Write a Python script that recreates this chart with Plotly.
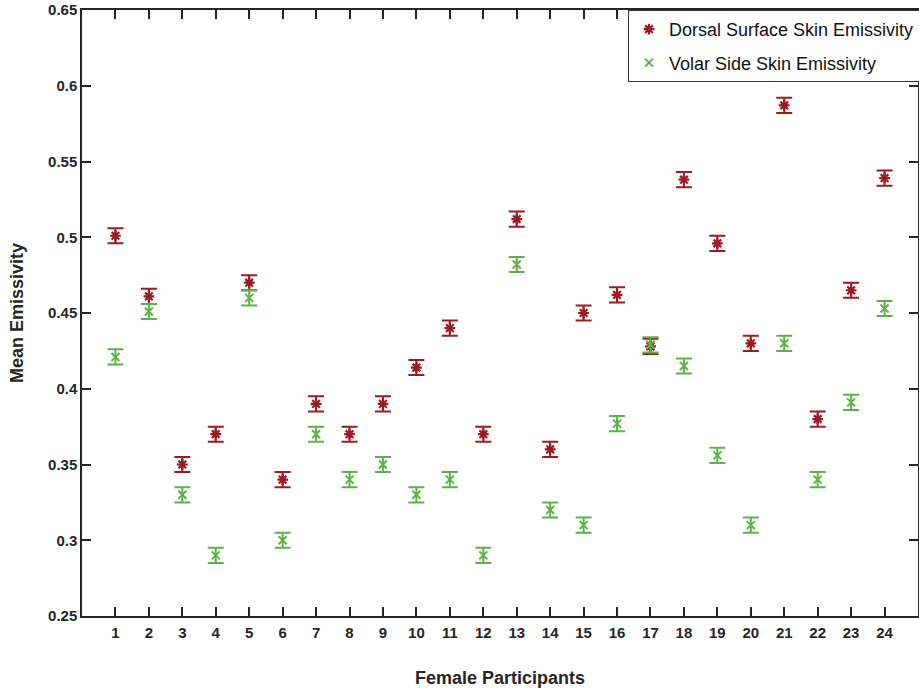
import plotly.graph_objects as go

participants = list(range(1, 25))
dorsal = [0.501, 0.461, 0.350, 0.370, 0.470, 0.340, 0.390, 0.370, 0.390, 0.414,
          0.440, 0.370, 0.512, 0.360, 0.450, 0.462, 0.428, 0.538, 0.496, 0.430,
          0.587, 0.380, 0.465, 0.539]
volar = [0.421, 0.451, 0.330, 0.290, 0.460, 0.300, 0.370, 0.340, 0.350, 0.330,
         0.340, 0.290, 0.482, 0.320, 0.310, 0.377, 0.429, 0.415, 0.356, 0.310,
         0.430, 0.340, 0.391, 0.453]
err = 0.005
y_ticks = [0.25, 0.3, 0.35, 0.4, 0.45, 0.5, 0.55, 0.6, 0.65]
y_tick_text = ["0.25", "0.3", "0.35", "0.4", "0.45", "0.5", "0.55", "0.6", "0.65"]

RED = "#9b1b20"
GREEN = "#5bb347"

fig = go.Figure()
fig.add_trace(go.Scatter(
    x=participants, y=dorsal, mode="markers", name="Dorsal Surface Skin Emissivity",
    legendgroup="a",
    marker=dict(symbol="asterisk-open", size=9, color=RED, line=dict(color=RED, width=2.2)),
    error_y=dict(type="constant", value=err, width=8, thickness=2, color=RED),
))
fig.add_trace(go.Scatter(
    x=participants, y=volar, mode="markers", name="Volar Side Skin Emissivity",
    legendgroup="b",
    marker=dict(symbol="x-thin-open", size=8, color=GREEN, line=dict(color=GREEN, width=2)),
    error_y=dict(type="constant", value=err, width=8, thickness=2, color=GREEN),
))

tickfont = dict(family="Liberation Sans, Arial, sans-serif", size=15, color="#262626", weight="bold")
titlefont = dict(family="Liberation Sans, Arial, sans-serif", size=18, color="#262626", weight="bold")

fig.update_layout(
    width=919, height=691,
    margin=dict(l=82, r=1, t=10, b=75, autoexpand=False),
    paper_bgcolor="white", plot_bgcolor="white",
    showlegend=True,
    legend=dict(
        x=(628 - 82) / (918 - 82), y=1, xanchor="left", yanchor="top",
        bordercolor="#333333", borderwidth=1, bgcolor="white",
        font=dict(family="Liberation Sans, Arial, sans-serif", size=18, color="#111111"),
        tracegroupgap=7, traceorder="grouped",
    ),
    xaxis=dict(
        range=[0, 25], tickmode="array", tickvals=participants,
        ticktext=[str(p) for p in participants],
        ticks="inside", ticklen=9, tickwidth=1.5, tickcolor="#262626",
        showline=True, linecolor="#262626", linewidth=1.5, mirror="ticks",
        showgrid=False, zeroline=False, tickfont=tickfont, ticklabelstandoff=2,
        title=dict(text="Female Participants", font=titlefont, standoff=32),
    ),
    yaxis=dict(
        range=[0.25, 0.65], tickmode="array", tickvals=y_ticks, ticktext=y_tick_text,
        ticks="inside", ticklen=9, tickwidth=1.5, tickcolor="#262626",
        showline=True, linecolor="#262626", linewidth=1.5, mirror="ticks",
        showgrid=False, zeroline=False, tickfont=tickfont,
        title=dict(text="Mean Emissivity", font=titlefont, standoff=20),
    ),
)

fig.write_html("out.html", config={"displayModeBar": False},
               post_script="document.body.style.margin='0';")
